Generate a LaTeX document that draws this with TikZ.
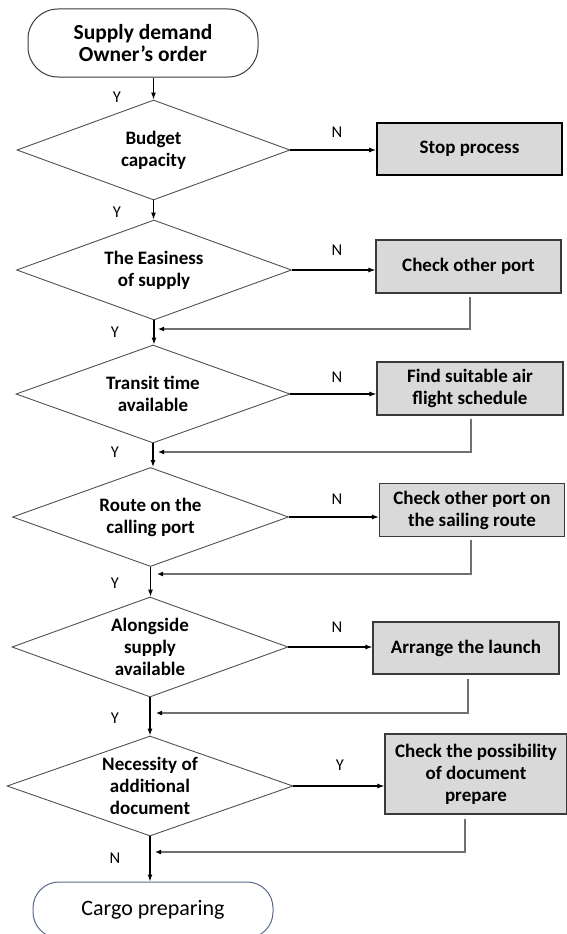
\documentclass[tikz,border=0pt]{standalone}
\usepackage{fontspec}
\setmainfont{Carlito}
\usetikzlibrary{arrows.meta,shapes.geometric}
\definecolor{diamc}{HTML}{505050}
\definecolor{boxc}{HTML}{3A3A3A}
\definecolor{boxfill}{HTML}{D9D9D9}
\definecolor{retc}{HTML}{707070}
\definecolor{termc}{HTML}{5A6A8A}
\begin{document}
\begin{tikzpicture}[x=1pt,y=-1pt,
  txt/.style={font=\bfseries\fontsize{19}{22}\selectfont, align=center},
  diam/.style={shape=diamond, draw=diamc, line width=0.9pt, inner sep=0pt},
  dtxt/.style={txt, inner sep=0pt},
  boxs/.style={draw=boxc, fill=boxfill, line width=1.1pt, minimum width=185pt, minimum height=53pt, inner sep=2pt, txt},
  lab/.style={font=\fontsize{16.5}{18}\selectfont, inner sep=0pt},
  arr/.style={line width=1.2pt, -{Latex[length=7pt,width=5pt]}},
  ret/.style={draw=retc, line width=1.4pt, -{Latex[length=6pt,width=5pt,color=black]}},
  term/.style={draw=boxc, line width=1pt, rounded corners=30pt, align=center}
]
\useasboundingbox (0,0) rectangle (566,934);

% terminals
\node[term, minimum width=230pt, minimum height=68pt, font=\bfseries\fontsize{21.5}{22}\selectfont] (t1) at (143,43) {Supply demand\\Owner’s order};
\node[term, draw=termc, minimum width=240pt, minimum height=56pt, rounded corners=26pt, font=\fontsize{22}{24}\selectfont] (t2) at (153,910) {Cargo preparing};

% decisions
\node[diam, minimum width=273pt, minimum height=100pt, label={[dtxt]center:Budget\\capacity}] (d1) at (153.5,150) {};
\node[diam, minimum width=275pt, minimum height=100pt, label={[dtxt]center:The Easiness\\of supply}] (d2) at (154,270) {};
\node[diam, minimum width=274pt, minimum height=98pt, label={[dtxt]center:Transit time\\available}] (d3) at (153,394) {};
\node[diam, minimum width=276pt, minimum height=99pt, label={[dtxt]center:Route on the\\calling port}] (d4) at (150.5,517) {};
\node[diam, minimum width=276pt, minimum height=100pt, label={[dtxt]center:Alongside\\supply\\available}] (d5) at (150,647) {};
\node[diam, minimum width=286pt, minimum height=100pt, label={[dtxt]center:Necessity of\\additional\\document}] (d6) at (150,786) {};

% process boxes
\node[boxs, draw=black, line width=1.6pt, minimum height=52pt] (b1) at (469.5,149) {Stop process};
\node[boxs] (b2) at (468.5,266.5) {Check other port};
\node[boxs, minimum width=186pt] (b3) at (470,388.5) {Find suitable air\\flight schedule};
\node[boxs] (b4) at (472,510) {Check other port on\\the sailing route};
\node[boxs, minimum width=186pt, minimum height=52pt] (b5) at (466,648) {Arrange the launch};
\node[boxs, minimum width=182pt, minimum height=80pt] (b6) at (476,774) {Check the possibility\\of document\\prepare};

% return tips
\coordinate (r2) at (158,329);
\coordinate (r3) at (158,452);
\coordinate (r4) at (157,574);
\coordinate (r5) at (156,713);
\coordinate (r6) at (155,852);

% main flow
\draw[arr] (d1.north |- t1.south) -- (d1.north);
\draw[arr] (d1.south) -- (d1.south |- d2.north);
\draw[arr] (d2.south) -- (d2.south |- d3.north);
\draw[arr] (d3.south) -- (d3.south |- d4.north);
\draw[arr] (d4.south) -- (d4.south |- d5.north);
\draw[arr] (d5.south) -- (d5.south |- d6.north);
\draw[arr] (d6.south) -- (d6.south |- t2.north);

% branches
\draw[arr] (d1.east) -- (d1.east -| b1.west);
\draw[arr] (d2.east) -- (d2.east -| b2.west);
\draw[arr] (d3.east) -- (d3.east -| b3.west);
\draw[arr] (d4.east) -- (d4.east -| b4.west);
\draw[arr] (d5.east) -- (d5.east -| b5.west);
\draw[arr] (d6.east) -- (d6.east -| b6.west);

% returns
\draw[ret] ([xshift=1.5pt,yshift=-3pt]b2.south) |- (r2);
\draw[ret] ([xshift=1pt,yshift=-3pt]b3.south) |- (r3);
\draw[ret] ([xshift=-1pt,yshift=-3pt]b4.south) |- (r4);
\draw[ret] ([xshift=2pt,yshift=-4pt]b5.south) |- (r5);
\draw[ret] ([xshift=-11pt,yshift=-4pt]b6.south) |- (r6);

% labels
\node[lab] (y1) at (117,97) {Y};
\node[lab] (y2) at (117,212) {Y};
\node[lab] (y3) at (115,332) {Y};
\node[lab] (y4) at (115,452) {Y};
\node[lab] (y5) at (115,583) {Y};
\node[lab] (y6) at (115,718) {Y};
\node[lab] (n7) at (115,858) {N};
\node[lab] (n1) at (337,132) {N};
\node[lab] (n2) at (337,250) {N};
\node[lab] (n3) at (337,377) {N};
\node[lab] (n4) at (337,499) {N};
\node[lab] (n5) at (337,627) {N};
\node[lab] (y7) at (340,765) {Y};
\end{tikzpicture}
\end{document}
